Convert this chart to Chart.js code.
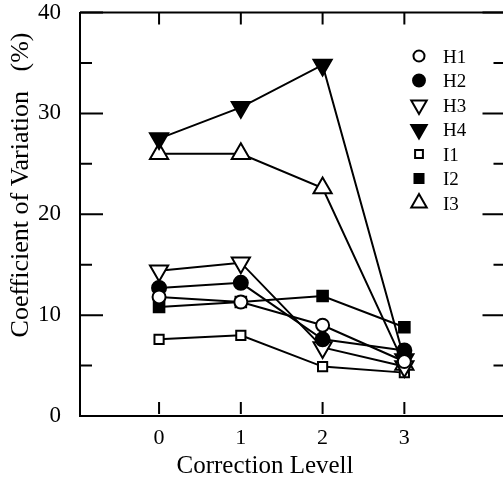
<!DOCTYPE html>
<html><head><meta charset="utf-8">
<script src="https://cdn.jsdelivr.net/npm/chart.js@4/dist/chart.umd.min.js"></script>
<style>html,body{margin:0;padding:0;background:#fff;overflow:hidden;width:503px;height:483px}canvas{display:block}</style>
</head><body>
<canvas id="c" width="518" height="483"></canvas>
<script>
// ---- data ----
const levels = [0, 1, 2, 3];
const seriesNames = ['H1', 'H2', 'H3', 'H4', 'I1', 'I2', 'I3'];
const H1 = [11.8, 11.3, 9.0, 5.4];
const H2 = [12.7, 13.2, 7.6, 6.5];
const H3 = [14.4, 15.2, 6.8, 4.9];
const H4 = [27.5, 30.6, 34.8, 5.6];
const I1 = [7.6, 8.0, 4.9, 4.3];
const I2 = [10.8, 11.3, 11.9, 8.8];
const I3 = [26.0, 26.0, 22.6, 5.1];
const yTickValues = [0, 10, 20, 30, 40];
const xTitle = 'Correction Levell';
const yTitle = 'Coefficient of Variation   (%)';

const seriesValues = [H1, H2, H3, H4, I1, I2, I3];
const styles = [
  {pointStyle: 'circle', rotation: 0, radius: 6.5, fill: '#fff'},
  {pointStyle: 'circle', rotation: 0, radius: 7, fill: '#000'},
  {pointStyle: 'triangle', rotation: 180, radius: 10.5, fill: '#fff'},
  {pointStyle: 'triangle', rotation: 180, radius: 10.5, fill: '#000'},
  {pointStyle: 'rect', rotation: 0, radius: 6.5, fill: '#fff'},
  {pointStyle: 'rect', rotation: 0, radius: 7.5, fill: '#000'},
  {pointStyle: 'triangle', rotation: 0, radius: 10.5, fill: '#fff'}
];
const SERIF = "'Liberation Serif', 'DejaVu Serif', serif";

const datasets = seriesNames.map((name, i) => ({
  label: name,
  data: levels.map((x, j) => ({x: x, y: seriesValues[i][j]})),
  borderColor: '#000',
  borderWidth: 2,
  backgroundColor: styles[i].fill,
  pointStyle: styles[i].pointStyle,
  pointRotation: styles[i].rotation,
  pointRadius: styles[i].radius,
  pointHoverRadius: styles[i].radius,
  pointBackgroundColor: styles[i].fill,
  pointBorderColor: '#000',
  pointBorderWidth: 2,
  tension: 0,
  fill: false
}));

function drawMarker(ctx, st, x, y, r) {
  ctx.save();
  ctx.fillStyle = st.fill; ctx.strokeStyle = '#000'; ctx.lineWidth = 2;
  if (window.Chart && Chart.helpers && Chart.helpers.drawPoint) {
    Chart.helpers.drawPoint(ctx, {pointStyle: st.pointStyle, rotation: st.rotation, radius: r, borderWidth: 2}, x, y);
  } else {
    ctx.beginPath(); ctx.arc(x, y, r, 0, Math.PI * 2); ctx.fill(); ctx.stroke();
  }
  ctx.restore();
}

const framePlugin = {
  id: 'frame',
  beforeDatasetsDraw(chart) {
    const ctx = chart.ctx, a = chart.chartArea;
    const xs = chart.scales.x, ys = chart.scales.y;
    ctx.save();
    ctx.strokeStyle = '#000'; ctx.lineWidth = 2; ctx.lineCap = 'butt';
    ctx.beginPath();
    ctx.moveTo(a.left, a.top); ctx.lineTo(a.right, a.top); ctx.lineTo(a.right, a.bottom);
    ctx.stroke();
    for (let v = 0; v <= 40; v += 5) {
      const y = ys.getPixelForValue(v);
      const len = (v % 10 === 0) ? 23 : 12;
      ctx.beginPath();
      ctx.moveTo(a.left, y); ctx.lineTo(a.left + len, y);
      ctx.moveTo(a.right, y); ctx.lineTo(a.right - len, y);
      ctx.stroke();
    }
    levels.forEach(v => {
      const x = xs.getPixelForValue(v);
      ctx.beginPath();
      ctx.moveTo(x, a.bottom - 2); ctx.lineTo(x, a.bottom - 14);
      ctx.moveTo(x, a.top); ctx.lineTo(x, a.top + 12);
      ctx.stroke();
    });
    ctx.restore();
  },
  afterDraw(chart) {
    const ctx = chart.ctx;
    ctx.save();
    ctx.fillStyle = '#000';
    ctx.font = '19px ' + SERIF;
    ctx.textBaseline = 'middle'; ctx.textAlign = 'left';
    seriesNames.forEach((name, i) => {
      const y = 56 + i * 24.5;
      drawMarker(ctx, styles[i], 419, y, styles[i].radius * 0.85);
      ctx.fillStyle = '#000';
      ctx.fillText(name, 443, y + 2);
    });
    ctx.font = '25px ' + SERIF;
    ctx.textAlign = 'center'; ctx.textBaseline = 'middle';
    ctx.fillText(xTitle, 265, 466);
    ctx.font = '26px ' + SERIF;
    ctx.translate(21, 185); ctx.rotate(-Math.PI / 2);
    ctx.fillText(yTitle, 0, 0);
    ctx.restore();
  }
};

new Chart(document.getElementById('c'), {
  type: 'line',
  data: {datasets: datasets},
  plugins: [framePlugin],
  options: {
    responsive: false,
    animation: false,
    devicePixelRatio: 1,
    layout: {padding: {top: 10, right: 5, left: 0, bottom: 0}},
    plugins: {legend: {display: false}, tooltip: {enabled: false}},
    scales: {
      x: {
        type: 'linear', min: -0.967, max: 4.237,
        afterFit(s) { s.height = 67; s.paddingLeft = 0; s.paddingRight = 0; },
        afterBuildTicks(s) { s.ticks = levels.map(v => ({value: v})); },
        grid: {display: false, drawTicks: false},
        border: {display: true, color: '#000', width: 2},
        ticks: {color: '#000', font: {family: SERIF, size: 22}, padding: 9,
                callback: v => String(v), maxRotation: 0, autoSkip: false}
      },
      y: {
        type: 'linear', min: 0, max: 40,
        afterFit(s) { s.width = 80; s.paddingTop = 0; s.paddingBottom = 0; },
        afterBuildTicks(s) { s.ticks = yTickValues.map(v => ({value: v})); },
        grid: {display: false, drawTicks: false},
        border: {display: true, color: '#000', width: 2},
        ticks: {color: '#000', font: {family: SERIF, size: 23}, padding: 19,
                callback: v => String(v)}
      }
    }
  }
});
</script>
</body></html>
